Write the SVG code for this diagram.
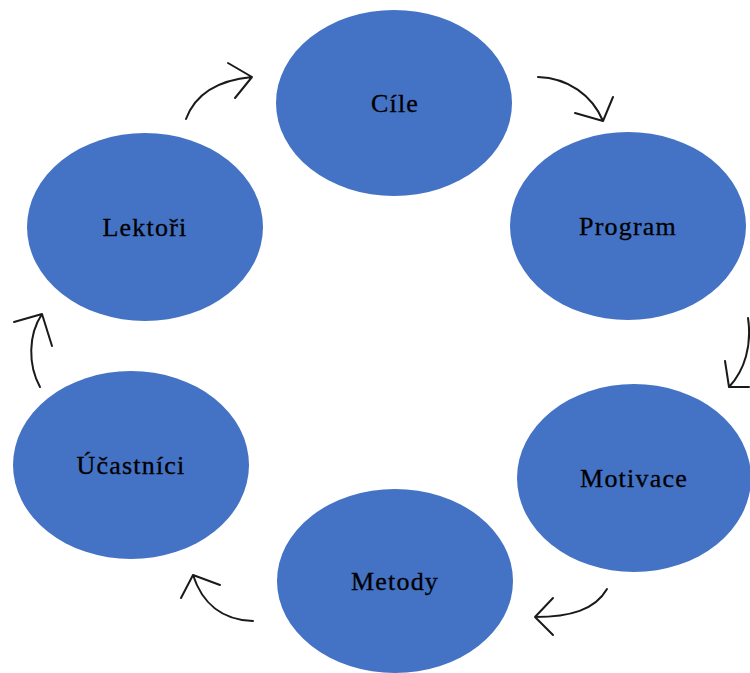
<svg xmlns="http://www.w3.org/2000/svg" width="750" height="673" viewBox="0 0 750 673">
<style>
.n{fill:#4472C4}
.t{font-family:"Liberation Serif","Times New Roman",serif;font-size:26px;letter-spacing:1.2px;fill:#000;stroke:#000;stroke-width:0.3px;text-anchor:middle;dominant-baseline:central}
.c{fill:none;stroke:#1a1a1a;stroke-width:2;stroke-linecap:round;stroke-linejoin:round}
</style>
<rect width="750" height="673" fill="#fff"/>
<g id="cile"><ellipse class="n" cx="394" cy="103" rx="118" ry="93"/><text class="t" x="395" y="103">Cíle</text></g>
<g id="program"><ellipse class="n" cx="628" cy="226" rx="118" ry="94"/><text class="t" x="628" y="226">Program</text></g>
<g id="motivace"><ellipse class="n" cx="634" cy="478" rx="117" ry="94"/><text class="t" x="634" y="478">Motivace</text></g>
<g id="metody"><ellipse class="n" cx="395" cy="581" rx="118" ry="92"/><text class="t" x="395" y="581">Metody</text></g>
<g id="ucastnici"><ellipse class="n" cx="131" cy="465" rx="118" ry="94"/><text class="t" x="131" y="465">Účastníci</text></g>
<g id="lektori"><ellipse class="n" cx="145" cy="227" rx="118" ry="94"/><text class="t" x="145" y="227">Lektoři</text></g>
<g id="connectors">
<path class="c" d="M186 119 C196 92 220 80 252 77 M228 63 L252 77 L235 98"/>
<path class="c" d="M538 77 C568 78 592 95 603 121 M575 113 L603 121 L613 97"/>
<path class="c" d="M748 318 C752 345 745 370 729 387 M725 361 L729 387 L749 387"/>
<path class="c" d="M607 589 C595 610 570 617 535 617 M553 598 L535 617 L553 635"/>
<path class="c" d="M253 621 C222 620 202 603 193 575 M181 598 L193 575 L220 585"/>
<path class="c" d="M40 387 C28 365 28 335 42 314 M14 322 L42 314 L52 346"/>
</g>
</svg>
